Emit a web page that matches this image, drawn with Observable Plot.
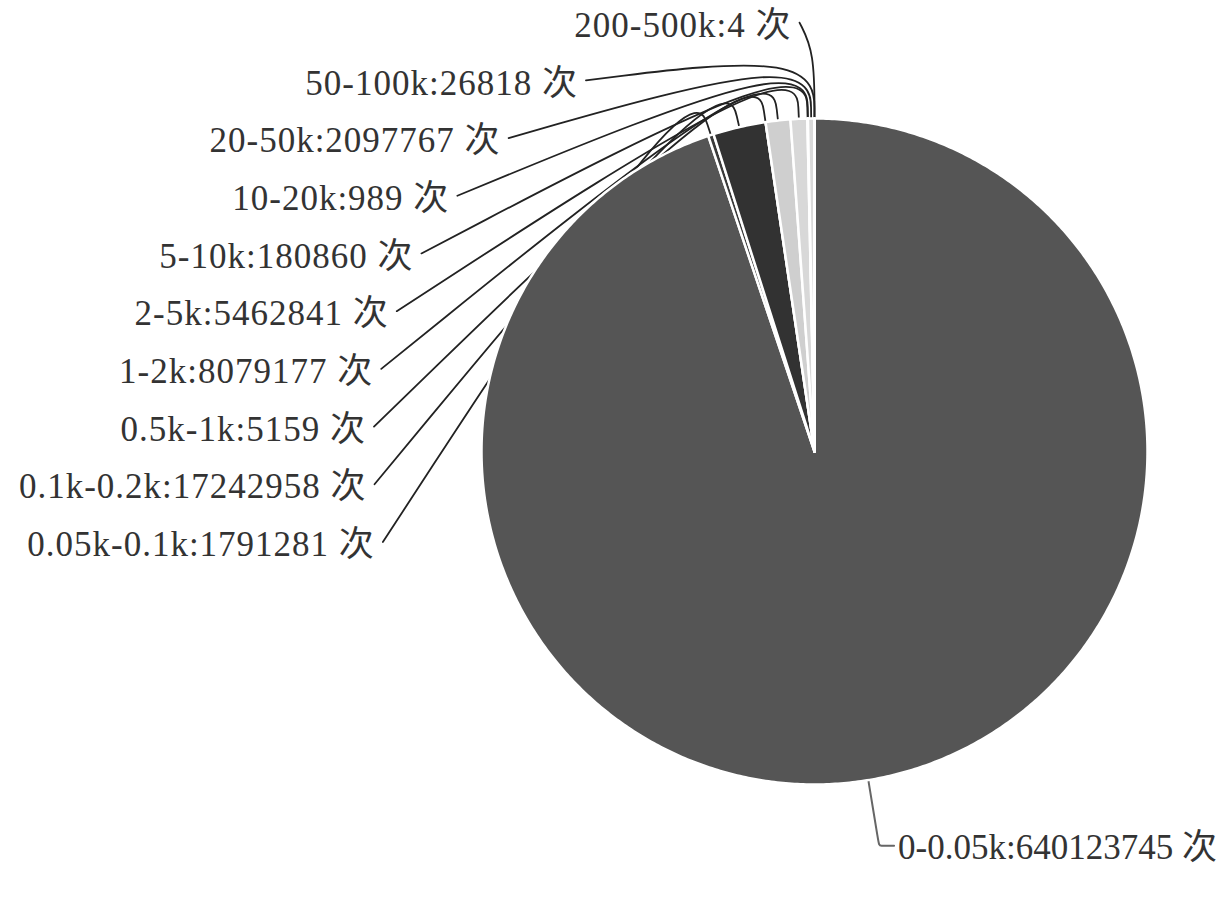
<!DOCTYPE html>
<html><head><meta charset="utf-8">
<script src="https://cdn.jsdelivr.net/npm/d3@7"></script>
<script src="https://cdn.jsdelivr.net/npm/@observablehq/plot@0.6"></script>
<style>html,body{margin:0;background:#fff;} #chart svg{display:block} .lbl-left text{letter-spacing:1px}</style>
</head><body><div id="chart"></div>
<script>
// ---- data ----
const categories = ["0-0.05k","0.05k-0.1k","0.1k-0.2k","0.5k-1k","1-2k","2-5k","5-10k","10-20k","20-50k","50-100k","200-500k"];
const counts = [640123745,1791281,17242958,5159,8079177,5462841,180860,989,2097767,26818,4];
const unit = "次";
// ---- styles ----
const sliceColors = ["#555555","#3a3a3a","#323232","#c4c4c4","#cfcfcf","#d8d8d8","#bdbdbd","#cccccc","#dadada","#c2c2c2","#cccccc"];

// ---- layout (pie in units of radius) ----
const W = 1221, H = 897, CX = 814, CY = 451, R = 333;
const LEN = 0.2, LEN2 = 0.045, RA = 1.28, LABEL_TOP = 1.288, LABEL_STEP = 0.1733;

const rows = categories.map((c, i) => ({cat: c, value: counts[i], label: `${c}:${counts[i]} ${unit}`}));
const arcs = d3.pie().sort(null).value(d => d.value).startAngle(0).endAngle(2 * Math.PI)(rows);

const slicePts = [];
arcs.forEach(a => {
  const n = Math.max(2, Math.ceil((a.endAngle - a.startAngle) / (Math.PI / 360)));
  slicePts.push({cat: a.data.cat, x: 0, y: 0});
  for (let k = 0; k <= n; k++) {
    const t = a.startAngle + (a.endAngle - a.startAngle) * k / n;
    slicePts.push({cat: a.data.cat, x: Math.sin(t), y: Math.cos(t)});
  }
  slicePts.push({cat: a.data.cat, x: 0, y: 0});
});

const mid = a => (a.startAngle + a.endAngle) / 2;
const left = arcs.filter(a => Math.sin(mid(a)) < 0)
  .sort((a, b) => Math.cos(mid(b)) - Math.cos(mid(a)));
const right = arcs.filter(a => Math.sin(mid(a)) >= 0);

const labelRows = [], linePts = [];
const lys = left.map((a, i) => LABEL_TOP - i * LABEL_STEP);
const rB = d3.max(lys, y => Math.abs(y));
left.forEach((a, i) => {
  const m = mid(a), ly = lys[i];
  const lx = -(RA * Math.sqrt(Math.max(0, 1 - ly * ly / (rB * rB))) + LEN2);
  const p2 = {x: (1 + LEN) * Math.sin(m), y: (1 + LEN) * Math.cos(m)};
  labelRows.push({x: lx, y: ly, text: a.data.label});
  linePts.push({cat: a.data.cat, x: lx, y: ly, c: "left"});
  linePts.push({cat: a.data.cat, ...p2, c: "left"});
  linePts.push({cat: a.data.cat, x: Math.sin(m), y: Math.cos(m), c: "left"});
});
const rightLabels = [];
right.forEach(a => {
  const m = mid(a);
  const p2 = {x: (1 + LEN) * Math.sin(m), y: (1 + LEN) * Math.cos(m)};
  linePts.push({cat: a.data.cat, x: Math.sin(m), y: Math.cos(m), c: "right"});
  linePts.push({cat: a.data.cat, ...p2, c: "right"});
  linePts.push({cat: a.data.cat, ...p2, c: "right"});
  linePts.push({cat: a.data.cat, x: p2.x + LEN2, y: p2.y, c: "right"});
  rightLabels.push({x: p2.x + LEN2, y: p2.y, text: a.data.label});
});

const font = "'Liberation Serif', 'Noto Sans CJK SC', serif";
const chart = Plot.plot({
  width: W, height: H, margin: 0,
  x: {domain: [-1, 1], range: [CX - R, CX + R], axis: null},
  y: {domain: [1, -1], range: [CY - R, CY + R], axis: null},
  color: {domain: categories, range: sliceColors},
  marks: [
    Plot.line(linePts.filter(d => d.c === "left"), {x: "x", y: "y", z: "cat", stroke: "#222", strokeWidth: 1.8, curve: "basis"}),
    Plot.line(linePts.filter(d => d.c === "right"), {x: "x", y: "y", z: "cat", stroke: "#666", strokeWidth: 2, curve: "basis"}),
    Plot.line(slicePts, {x: "x", y: "y", z: "cat", fill: "cat", stroke: "white", strokeWidth: 2.5, strokeLinejoin: "round", curve: "linear"}),
    Plot.text(labelRows, {x: "x", y: "y", text: "text", textAnchor: "end", dx: -8, dy: 3, fontSize: 35, fontFamily: font, fill: "#333", className: "lbl-left"}),
    Plot.text(rightLabels, {x: "x", y: "y", text: "text", textAnchor: "start", dx: 4, dy: 2, fontSize: 35, fontFamily: font, fill: "#333"})
  ]
});
document.getElementById("chart").appendChild(chart);
</script>
</body></html>
